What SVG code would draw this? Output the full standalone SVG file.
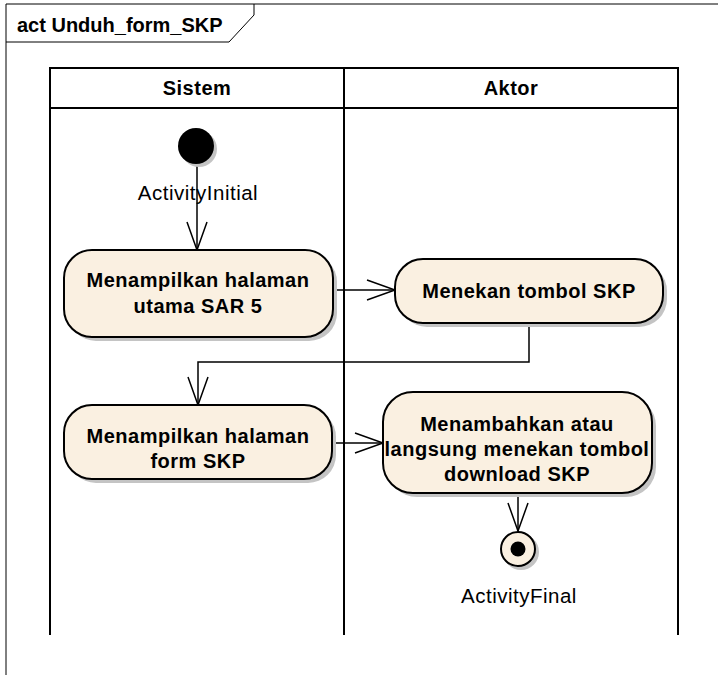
<svg xmlns="http://www.w3.org/2000/svg" width="718" height="675" viewBox="0 0 718 675">
  <style>
    .frame { fill: none; stroke: #000; stroke-width: 1; }
    .lane { fill: none; stroke: #000; stroke-width: 2; }
    .node { fill: #FAF0E1; stroke: #000; stroke-width: 2; }
    .shadow { fill: #C4C4C4; stroke: none; }
    .conn { fill: none; stroke: #000; stroke-width: 1.5; }
    .bold { font-family: "Liberation Sans", Arial, sans-serif; font-weight: bold; font-size: 20px; letter-spacing: 0.5px; fill: #000; text-anchor: middle; }
    .title { font-family: "Liberation Sans", Arial, sans-serif; font-weight: bold; font-size: 20px; fill: #000; }
    .label { font-family: "Liberation Sans", Arial, sans-serif; font-size: 20.5px; letter-spacing: 0.5px; fill: #000; text-anchor: middle; }
  </style>
  <defs>
    <marker id="arrow" markerUnits="userSpaceOnUse" markerWidth="32" markerHeight="26" refX="29" refY="11" orient="auto">
      <path d="M1,1 L29,11 L1,21" fill="none" stroke="#000" stroke-width="1.5"/>
    </marker>
  </defs>
  <rect x="0" y="0" width="718" height="675" fill="#fff"/>

  <g id="frame">
    <path class="frame" d="M6,675 V4 H718"/>
    <path class="frame" d="M6,42 H229 L254,15 V4"/>
    <text class="title" x="17" y="32">act Unduh_form_SKP</text>
  </g>

  <g id="lanes">
    <path class="lane" d="M50,635 V68 H678 V635"/>
    <line class="lane" x1="50" y1="108" x2="678" y2="108"/>
    <line class="lane" x1="344" y1="68" x2="344" y2="635"/>
    <text class="bold" x="197" y="95">Sistem</text>
    <text class="bold" x="511" y="95">Aktor</text>
  </g>

  <g id="connectors">
    <path class="conn" d="M197,165 V250" marker-end="url(#arrow)"/>
    <path class="conn" d="M333,290 H395" marker-end="url(#arrow)"/>
    <path class="conn" d="M529,323 V362 H198 V405" marker-end="url(#arrow)"/>
    <path class="conn" d="M332,443 H383" marker-end="url(#arrow)"/>
    <path class="conn" d="M518,493 V531" marker-end="url(#arrow)"/>
  </g>

  <g id="initial">
    <circle class="shadow" cx="199" cy="149" r="18"/>
    <circle cx="196" cy="146" r="18" fill="#000"/>
    <text class="label" x="198" y="200">ActivityInitial</text>
  </g>

  <g id="n1">
    <rect class="shadow" x="68" y="254" width="269" height="87" rx="28"/>
    <rect class="node" x="64" y="250" width="269" height="87" rx="28"/>
    <text class="bold" x="198" y="287">Menampilkan halaman</text>
    <text class="bold" x="198" y="313">utama SAR 5</text>
  </g>

  <g id="n2">
    <rect class="shadow" x="399" y="263" width="268" height="64" rx="28"/>
    <rect class="node" x="395" y="259" width="268" height="64" rx="28"/>
    <text class="bold" x="529" y="298">Menekan tombol SKP</text>
  </g>

  <g id="n3">
    <rect class="shadow" x="68" y="409" width="268" height="74" rx="28"/>
    <rect class="node" x="64" y="405" width="268" height="74" rx="28"/>
    <text class="bold" x="198" y="443">Menampilkan halaman</text>
    <text class="bold" x="198" y="468">form SKP</text>
  </g>

  <g id="n4">
    <rect class="shadow" x="387" y="396" width="269" height="101" rx="30"/>
    <rect class="node" x="383" y="392" width="269" height="101" rx="30"/>
    <text class="bold" x="517" y="431">Menambahkan atau</text>
    <text class="bold" x="517" y="456">langsung menekan tombol</text>
    <text class="bold" x="517" y="481">download SKP</text>
  </g>

  <g id="final">
    <circle class="shadow" cx="521" cy="552" r="18"/>
    <circle class="node" cx="518" cy="549" r="17"/>
    <circle cx="518" cy="549" r="7.5" fill="#000"/>
    <text class="label" x="519" y="603">ActivityFinal</text>
  </g>
</svg>
